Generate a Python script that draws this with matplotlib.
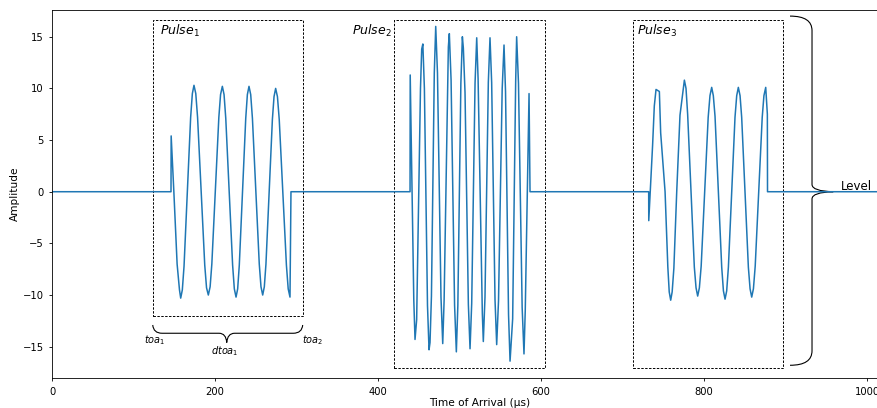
import matplotlib.pyplot as plt
from matplotlib.path import Path
from matplotlib.patches import PathPatch, Rectangle

# sample points (time in us, amplitude)
pulse1_t = [146.0, 146.2, 149.5, 153.5, 156.4, 157.9,
            159.9, 162.0, 166.0, 170.1, 172.2, 174.2,
            176.4, 178.6, 183.0, 187.4, 189.6, 191.8,
            194.0, 196.1, 200.4, 204.7, 206.8, 209.0,
            211.1, 213.2, 217.4, 221.6, 223.7, 225.8,
            227.8, 229.8, 233.8, 237.7, 239.7, 241.7,
            243.8, 245.9, 250.1, 254.3, 256.4, 258.5,
            260.5, 262.5, 266.5, 270.4, 272.4, 274.4,
            276.6, 278.8, 283.2, 287.6, 289.8, 292.0, 293.2]
pulse1_v = [0, 5.4, 0, -7.0, -9.5, -10.3,
            -9.5, -7.2, 0, 7.2, 9.5, 10.3,
            9.5, 7.2, 0, -7.1, -9.3, -10.0,
            -9.2, -7.0, 0, 7.2, 9.4, 10.2,
            9.4, 7.1, 0, -7.1, -9.4, -10.2,
            -9.4, -7.1, 0, 7.1, 9.4, 10.2,
            9.4, 7.1, 0, -7.0, -9.2, -10.0,
            -9.2, -7.0, 0, 7.0, 9.2, 10.0,
            9.2, 7.0, 0, -7.1, -9.4, -10.2, 0]

pulse2_t = [439.3, 439.5, 443.9, 445.4, 447.4, 452.1, 453.6, 455.0, 456.9, 460.7,
            462.6, 463.8, 465.55, 469.05, 470.8, 472.95, 477.25, 479.4, 481.1,
            486.3, 487.5, 489.65, 493.95, 496.1, 497.95, 501.65, 503.5, 504.7,
            506.75, 510.85, 512.9, 514.95, 519.05, 521.1, 522.8, 528.0, 529.2,
            531.25, 535.35, 537.4, 539.45, 543.55, 545.6, 547.85, 552.35, 554.6,
            556.45, 560.15, 562.0, 565.2, 568.9, 570.1, 572.35, 576.85, 579.1,
            580.65, 585.3, 586.5]
pulse2_v = [0, 11.3, -10.5, -14.3, -12.4, 10.0, 13.8, 14.3, 10.0, -11.0,
            -15.3, -14.6, -10.1, 11.5, 16.0, 11.5, -10.2, -14.7, -10.5,
            14.0, 15.3, 10.8, -11.0, -15.5, -11.0, 10.5, 15.0, 13.9,
            9.6, -10.9, -15.2, -10.8, 10.5, 14.9, 10.9, -11.8, -14.5,
            -10.2, 10.6, 14.9, 10.55, -10.45, -14.8, -10.55, 9.95, 14.2,
            9.7, -11.9, -16.4, -12.3, 10.7, 15.0, 10.5, -11.2, -15.7,
            -11.5, 9.5, 0]

pulse3_t = [732.1, 732.2, 736.9, 739.0, 741.1, 745.2, 746.8, 752.2, 755.6, 757.3,
            759.1, 760.9, 763.0, 766.5, 770.5, 773.8, 775.9, 777.9, 779.9, 784.0,
            788.1, 790.2, 792.2, 794.3, 796.5, 800.8, 805.1, 807.3, 809.4, 811.4,
            813.5, 817.6, 821.7, 823.8, 825.8, 827.8, 829.9, 834.0, 838.0, 840.1,
            842.1, 844.2, 846.2, 850.3, 854.4, 856.5, 858.5, 860.6, 862.8, 867.1,
            871.4, 873.5, 875.7, 877.7, 877.9]
pulse3_v = [0, -2.8, 4.5, 8.3, 9.9, 9.7, 5.7, 0, -7.3, -9.7,
            -10.5, -9.7, -7.4, 0, 7.4, 9.5, 10.8, 10.0, 7.5, 0,
            -7.3, -9.3, -10.1, -9.3, -7.2, 0, 7.2, 9.3, 10.1, 9.3,
            7.3, 0, -7.3, -9.6, -10.4, -9.6, -7.3, 0, 7.2, 9.3,
            10.1, 9.3, 7.2, 0, -7.3, -9.4, -10.2, -9.4, -7.2, 0,
            7.2, 9.3, 10.1, 7.5, 0]

# dashed boxes: (left, right, bottom, top)
boxes = [(124.3, 308.3, -12.0, 16.6),
         (420.0, 605.0, -17.1, 16.6),
         (713.0, 897.0, -17.1, 16.6)]
pulse_labels = [r"$Pulse_1$", r"$Pulse_2$", r"$Pulse_3$"]
label_x = [132.5, 367.7, 718.2]

t = [0.0] + pulse1_t + pulse2_t + pulse3_t + [1050.0]
amp = [0.0] + pulse1_v + pulse2_v + pulse3_v + [0.0]

fig = plt.figure(figsize=(8.77, 4.08), dpi=100)
ax = fig.add_axes([0.0593, 0.0728, 0.9758, 0.9027])

ax.plot(t, amp, color="#1f77b4", linewidth=1.1)

for (x0, x1, y0, y1), lab, lx in zip(boxes, pulse_labels, label_x):
    ax.add_patch(Rectangle((x0, y0), x1 - x0, y1 - y0, fill=False,
                           edgecolor="black", linewidth=0.7,
                           linestyle=(0, (2.5, 1.5))))
    ax.text(lx, 15.2, lab, fontsize=9, va="baseline")

# horizontal brace under first pulse
hb = [(123.6, -12.9), (124.5, -13.7), (135.0, -13.7),
      (205.0, -13.7), (213.5, -13.7), (214.4, -14.6),
      (215.3, -13.7), (224.0, -13.7),
      (296.0, -13.7), (306.7, -13.7), (307.6, -12.9)]
hc = [Path.MOVETO, Path.CURVE3, Path.CURVE3,
      Path.LINETO, Path.CURVE3, Path.CURVE3,
      Path.CURVE3, Path.CURVE3,
      Path.LINETO, Path.CURVE3, Path.CURVE3]
ax.add_patch(PathPatch(Path(hb, hc), fill=False, edgecolor="black", linewidth=0.8))
ax.text(126.4, -14.4, r"$toa_1$", fontsize=7, ha="center", va="center")
ax.text(211.7, -15.4, r"$dtoa_1$", fontsize=7, ha="center", va="center")
ax.text(319.9, -14.4, r"$toa_2$", fontsize=7, ha="center", va="center")

# vertical brace for the level
vb = [(905.5, 17.0), (932.5, 17.0), (932.5, 15.6),
      (932.5, 0.7), (932.5, 0.05), (958.6, 0.0),
      (932.5, -0.05), (932.5, -0.7),
      (932.5, -15.4), (932.5, -16.8), (905.5, -16.8)]
vc = [Path.MOVETO, Path.CURVE3, Path.CURVE3,
      Path.LINETO, Path.CURVE3, Path.CURVE3,
      Path.CURVE3, Path.CURVE3,
      Path.LINETO, Path.CURVE3, Path.CURVE3]
ax.add_patch(PathPatch(Path(vb, vc), fill=False, edgecolor="black", linewidth=0.8))
ax.text(968.0, 0.5, "Level", fontsize=8.5, va="center")

ax.set_xlim(0, 1050)
ax.set_ylim(-18.06, 17.59)
ax.set_xticks([0, 200, 400, 600, 800, 1000])
ax.set_yticks([-15, -10, -5, 0, 5, 10, 15])
ax.tick_params(labelsize=7.2, length=2.5, width=0.6)
for s in ax.spines.values():
    s.set_linewidth(0.6)
ax.set_xlabel("Time of Arrival (µs)", fontsize=7.6, labelpad=1)
ax.set_ylabel("Amplitude", fontsize=7.6, labelpad=2)

fig.savefig("out.png", dpi=100)
